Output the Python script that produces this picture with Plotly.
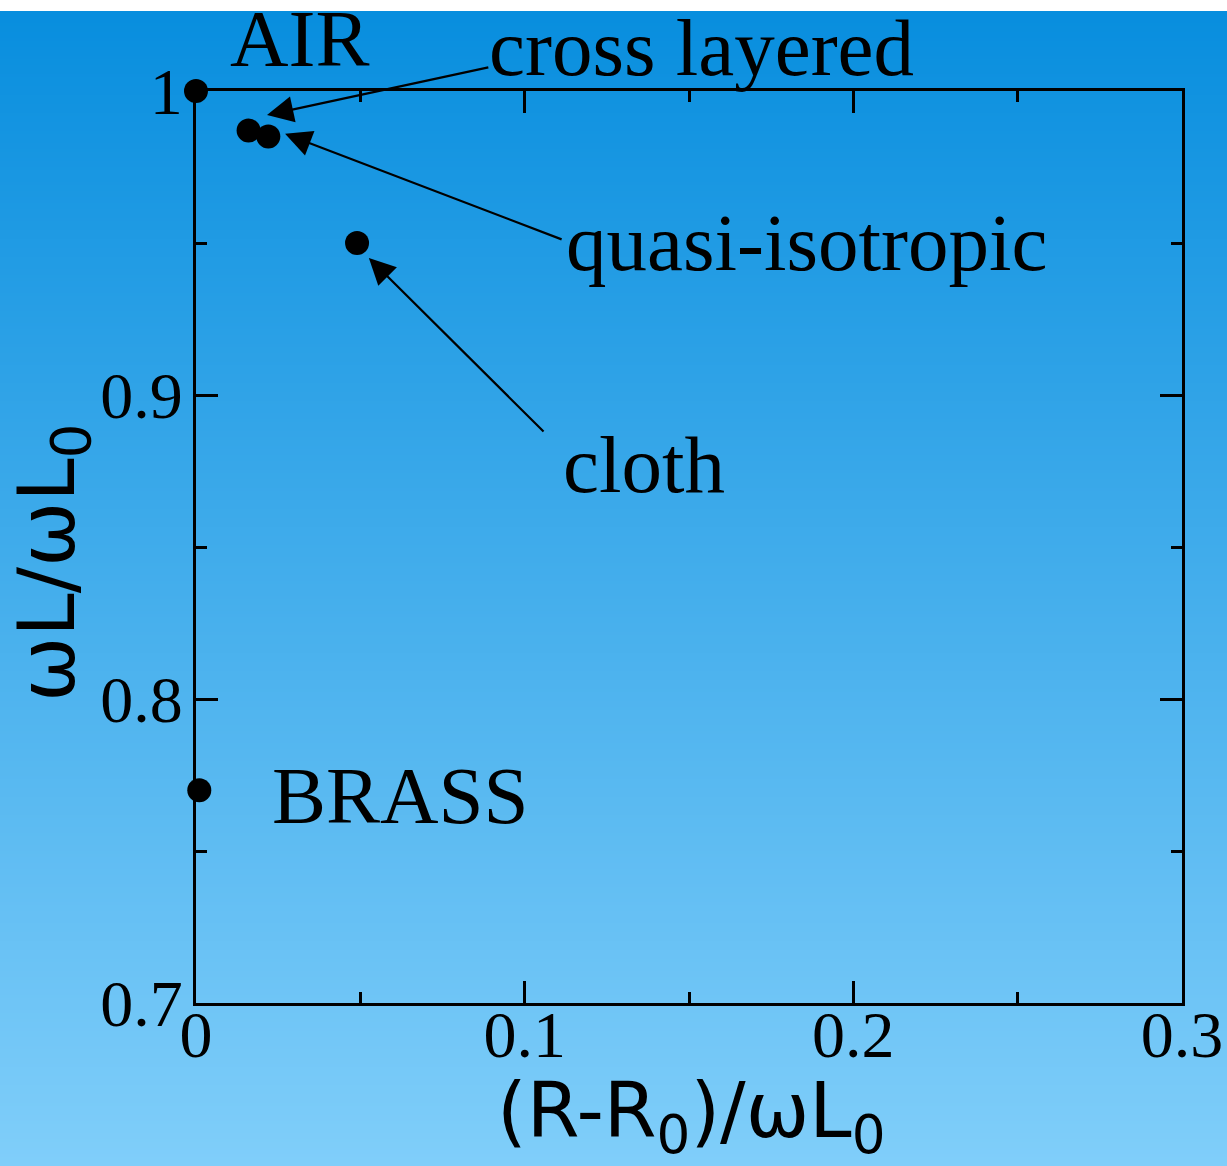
import plotly.graph_objects as go

# Normalised impedance of the coil for each shielding material
materials = ["AIR", "cross layered", "quasi-isotropic", "cloth", "BRASS"]
resistance = [0.0, 0.016, 0.022, 0.049, 0.001]     # (R-R0)/wL0
reactance = [1.0, 0.987, 0.985, 0.950, 0.770]      # wL/wL0

x_tick_vals = [0.0, 0.1, 0.2, 0.3]
x_tick_text = ["0", "0.1", "0.2", "0.3"]
y_tick_vals = [0.7, 0.8, 0.9, 1.0]
y_tick_text = ["0.7", "0.8", "0.9", "1"]
x_range = [0.0, 0.3]
y_range = [0.7, 1.0]

# Figure geometry (pixels)
W, H = 1227, 1166
L, R, T, B = 196, 45, 91, 163
PW, PH = W - L - R, H - T - B


def px_x(px):
    return (px - L) / PW


def px_y(py):
    return (H - B - py) / PH


def data_to_paper(x, y):
    return ((x - x_range[0]) / (x_range[1] - x_range[0]),
            (y - y_range[0]) / (y_range[1] - y_range[0]))


fig = go.Figure()

fig.add_trace(go.Scatter(
    x=resistance, y=reactance, mode="markers",
    marker=dict(size=24, color="black"),
    cliponaxis=False, showlegend=False, hoverinfo="x+y+text", text=materials,
))

# Vertical blue gradient behind everything (white strip along the very top)
top_px, bottom_px = 11, H
c0, c1 = (8, 142, 222), (128, 206, 250)
step = 3
shapes = []
py = top_px
while py < bottom_px:
    f = (py - top_px) / (bottom_px - top_px)
    col = tuple(round(a + (b - a) * f) for a, b in zip(c0, c1))
    shapes.append(dict(
        type="rect", xref="paper", yref="paper", layer="below",
        x0=px_x(-10), x1=px_x(W + 10),
        y0=px_y(min(py + step + 1, bottom_px + 5)), y1=px_y(py),
        fillcolor="rgb(%d,%d,%d)" % col, line=dict(width=0),
    ))
    py += step

serif = "Liberation Serif, Times New Roman, serif"
sans = "DejaVu Sans, Verdana, sans-serif"

# Text labels (left edge, vertical middle) in data units
label_pos = {
    "AIR": (0.0097, 1.0171),
    "cross layered": (0.0885, 1.0141),
    "quasi-isotropic": (0.1120, 0.950),
    "cloth": (0.1112, 0.877),
    "BRASS": (0.0224, 0.768),
}
annotations = []
for name, (lx, ly) in label_pos.items():
    qx, qy = data_to_paper(lx, ly)
    annotations.append(dict(
        x=qx, y=qy, xref="paper", yref="paper", text=name, showarrow=False,
        xanchor="left", yanchor="middle",
        font=dict(family=serif, size=81, color="black"),
    ))

# Leader arrows: (tail x, tail y) -> (head x, head y) in data units
arrows = [
    ((0.0894, 1.0079), (0.0216, 0.9921)),
    ((0.1117, 0.9510), (0.0271, 0.9859)),
    ((0.1062, 0.8875), (0.0526, 0.9451)),
]
for (tx, ty), (hx, hy) in arrows:
    annotations.append(dict(
        x=hx, y=hy, ax=tx, ay=ty, xref="x", yref="y", axref="x", ayref="y",
        text="", showarrow=True, arrowhead=2, arrowsize=2.4, arrowwidth=2.2,
        arrowcolor="black",
    ))

# Axis titles
annotations.append(dict(
    x=px_x(691), y=px_y(1116), xref="paper", yref="paper", showarrow=False,
    text="(R-R<sub>0</sub>)/\u03c9L<sub>0</sub>", xanchor="center", yanchor="middle",
    font=dict(family=sans, size=76, color="black"),
))
annotations.append(dict(
    x=px_x(52), y=px_y(563), xref="paper", yref="paper", showarrow=False,
    text="\u03c9L/\u03c9L<sub>0</sub>", textangle=-90, xanchor="center", yanchor="middle",
    font=dict(family=sans, size=78, color="black"),
))

axis_common = dict(
    showline=True, linecolor="black", linewidth=3, mirror="ticks",
    ticks="inside", ticklen=22, tickwidth=3, tickcolor="black",
    showgrid=False, zeroline=False, automargin=False,
    tickfont=dict(family=serif, size=66, color="black"),
)

fig.update_layout(
    width=W, height=H, autosize=False,
    margin=dict(l=L, r=R, t=T, b=B, pad=0),
    paper_bgcolor="white", plot_bgcolor="rgba(0,0,0,0)",
    shapes=shapes, annotations=annotations, showlegend=False,
    xaxis=dict(range=x_range, tickvals=x_tick_vals, ticktext=x_tick_text,
               ticklabelstandoff=-28,
               minor=dict(ticks="inside", ticklen=11, tickwidth=3, tickcolor="black",
                          dtick=0.05, tick0=0, showgrid=False),
               **axis_common),
    yaxis=dict(range=y_range, tickvals=y_tick_vals, ticktext=y_tick_text,
               ticklabelstandoff=-3,
               minor=dict(ticks="inside", ticklen=11, tickwidth=3, tickcolor="black",
                          dtick=0.05, tick0=0.7, showgrid=False),
               **axis_common),
)

fig.write_html("out.html")
